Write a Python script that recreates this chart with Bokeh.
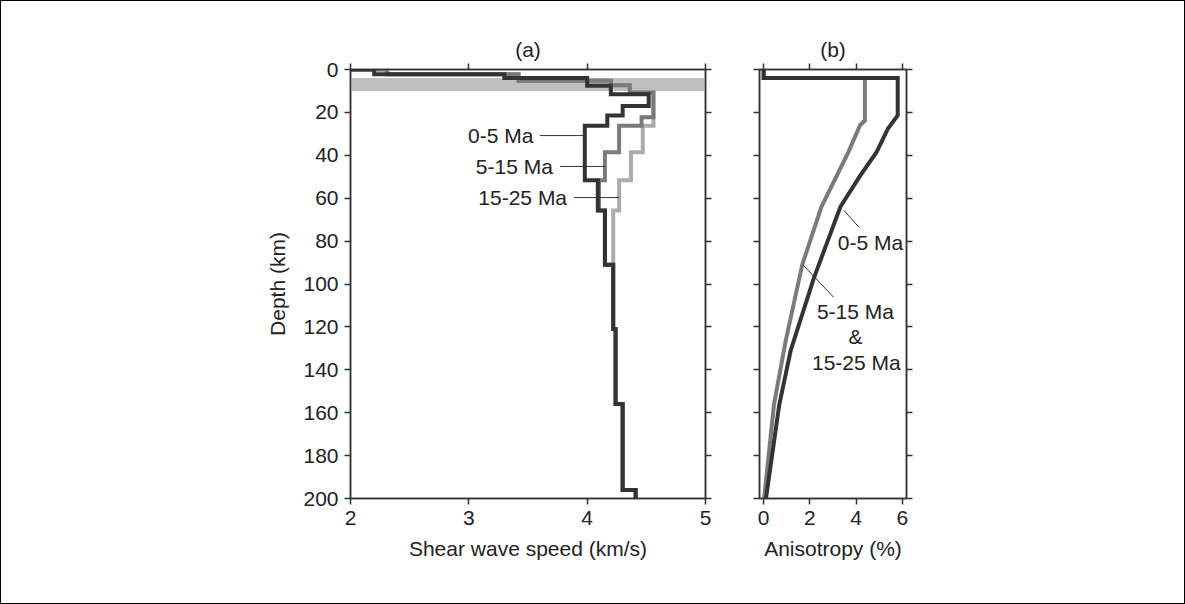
from bokeh.plotting import figure
from bokeh.models import Range1d, LinearAxis, FixedTicker, CustomJSTickFormatter, Label, Spacer
from bokeh.layouts import row
from bokeh.embed import file_html
from bokeh.resources import INLINE

# ---------------- data ----------------
# Panel (a): layered shear-wave speed profiles (layer boundaries in km, speed in km/s)
dark_bounds = [0, 2.2, 4.0, 7.6, 11.5, 17.0, 21.5, 26.2, 51.6, 65.7, 91, 121, 156, 196, 200]
dark_vs = [2.20, 3.30, 4.00, 4.20, 4.52, 4.30, 4.17, 3.98, 4.09, 4.15, 4.22, 4.24, 4.30, 4.41]

mid_bounds = [0, 2.2, 5.3, 7.4, 10.7, 22.3, 26.2, 38.6, 51.6, 65.7, 91, 121, 156, 196, 200]
mid_vs = [2.31, 3.42, 4.20, 4.36, 4.56, 4.46, 4.27, 4.15, 4.10, 4.15, 4.22, 4.24, 4.30, 4.41]

light_bounds = [0, 2.2, 5.3, 7.4, 10.7, 26.2, 38.6, 51.6, 65.7, 91, 121, 156, 196, 200]
light_vs = [2.31, 3.42, 4.20, 4.36, 4.56, 4.47, 4.37, 4.27, 4.22, 4.22, 4.24, 4.30, 4.41]

surface_speed = 2.0
band_top, band_bottom = 4.0, 10.0

# Panel (b): anisotropy (%) vs depth (km)
aniso_depth_dark = [0, 4, 4, 21.4, 27.5, 38.4, 49.6, 64.0, 97.6, 131, 156.6, 200]
aniso_dark = [0, 0, 5.8, 5.8, 5.38, 4.89, 4.17, 3.32, 2.16, 1.17, 0.67, 0.10]

aniso_depth_gray = [0, 4, 4, 23.8, 26.0, 38.6, 64.0, 91, 126.6, 156, 200]
aniso_gray = [0, 0, 4.38, 4.38, 4.17, 3.66, 2.50, 1.67, 0.95, 0.45, 0.02]

speed_ticks = [2, 3, 4, 5]
depth_ticks = list(range(0, 201, 20))
aniso_ticks = [0, 2, 4, 6]

# ---------------- style ----------------
FONT = "Liberation Sans"
FS = "21px"
TXT = "#222222"
AX = "#333333"
DARK = "#333333"
MID = "#7a7a7a"
LIGHT = "#ababab"
BAND = "#bfbfbf"


def steps(bounds, vs, x0):
    xs = [x0]
    ys = [bounds[0]]
    for i, v in enumerate(vs):
        xs += [v, v]
        ys += [bounds[i], bounds[i + 1]]
    return xs, ys


def style_axis(ax, ticks, labels=True):
    ax.ticker = FixedTicker(ticks=ticks)
    ax.major_tick_in = 0
    ax.major_tick_out = 6
    ax.minor_tick_in = 0
    ax.minor_tick_out = 0
    ax.axis_line_color = AX
    ax.axis_line_width = 1.5
    ax.major_tick_line_color = AX
    ax.major_tick_line_width = 1.5
    ax.major_label_text_font = FONT
    ax.major_label_text_font_size = FS
    ax.major_label_text_color = TXT
    ax.major_label_standoff = 6
    ax.axis_label_text_font = FONT
    ax.axis_label_text_font_size = FS
    ax.axis_label_text_color = TXT
    ax.axis_label_text_font_style = "normal"
    if not labels:
        ax.formatter = CustomJSTickFormatter(code="return ''")
        ax.major_label_standoff = 0
        ax.major_label_text_font_size = "1px"


def make_fig(xr, xticks, xlabel, title, frame_w, border_left, border_right, ylabels):
    p = figure(frame_width=frame_w, frame_height=429,
               x_range=Range1d(*xr), y_range=Range1d(200, 0),
               output_backend="svg", toolbar_location=None,
               min_border_left=border_left, min_border_right=border_right,
               min_border_top=68, min_border_bottom=105)
    p.xgrid.visible = False
    p.ygrid.visible = False
    p.outline_line_color = AX
    p.outline_line_width = 1.5
    p.background_fill_color = "white"
    p.border_fill_color = "white"
    style_axis(p.xaxis[0], xticks)
    p.xaxis[0].axis_label = xlabel
    p.xaxis[0].axis_label_standoff = 9
    style_axis(p.yaxis[0], depth_ticks, labels=ylabels)
    top = LinearAxis()
    style_axis(top, xticks, labels=False)
    top.axis_label = title
    top.axis_label_standoff = 3
    p.add_layout(top, "above")
    right = LinearAxis()
    style_axis(right, depth_ticks, labels=False)
    p.add_layout(right, "right")
    return p


# ---------------- panel (a) ----------------
p1 = make_fig((2, 5), speed_ticks, "Shear wave speed (km/s)", "(a)", 355, 349, 20, True)
p1.yaxis[0].axis_label = "Depth (km)"
p1.yaxis[0].axis_label_standoff = 11

p1.quad(left=[2], right=[5], top=[band_top], bottom=[band_bottom],
        fill_color=BAND, line_color=None)

for bounds, vs, col in [(light_bounds, light_vs, LIGHT),
                        (mid_bounds, mid_vs, MID),
                        (dark_bounds, dark_vs, DARK)]:
    xs, ys = steps(bounds, vs, surface_speed)
    p1.line(xs, ys, line_width=4, line_color=col, line_join="miter")

for txt, x_txt, x0, x1, d in [("0-5 Ma", 3.545, 3.60, 3.98, 30.8),
                              ("5-15 Ma", 3.71, 3.77, 4.15, 45.2),
                              ("15-25 Ma", 3.83, 3.89, 4.27, 59.7)]:
    p1.line([x0, x1], [d, d], line_width=1, line_color=DARK)
    p1.add_layout(Label(x=x_txt, y=d, text=txt, text_align="right",
                        text_baseline="middle", text_font=FONT,
                        text_font_size=FS, text_color=TXT))

# ---------------- panel (b) ----------------
p2 = make_fig((-0.18, 6.18), aniso_ticks, "Anisotropy (%)", "(b)", 147, 34, 40, False)

p2.line(aniso_gray, aniso_depth_gray, line_width=4, line_color=MID, line_join="miter")
p2.line(aniso_dark, aniso_depth_dark, line_width=4, line_color=DARK, line_join="miter")

p2.line([3.47, 4.12], [65.7, 73.5], line_width=1, line_color=DARK)
p2.line([1.73, 3.03], [91.4, 106.2], line_width=1, line_color=DARK)

for txt, x, d in [("0-5 Ma", 4.62, 80.8), ("5-15 Ma", 3.97, 112.6),
                  ("&", 3.97, 124.6), ("15-25 Ma", 4.01, 136.8)]:
    p2.add_layout(Label(x=x, y=d, text=txt, text_align="center",
                        text_baseline="middle", text_font=FONT,
                        text_font_size=FS, text_color=TXT))

filler = Spacer(width=1183 - (349 + 355 + 20) - (34 + 147 + 40), height=602)

layout = row(p1, p2, filler, spacing=0,
             styles={"border": "1px solid #000000"})
open("out.html", "w").write(file_html(layout, INLINE))
